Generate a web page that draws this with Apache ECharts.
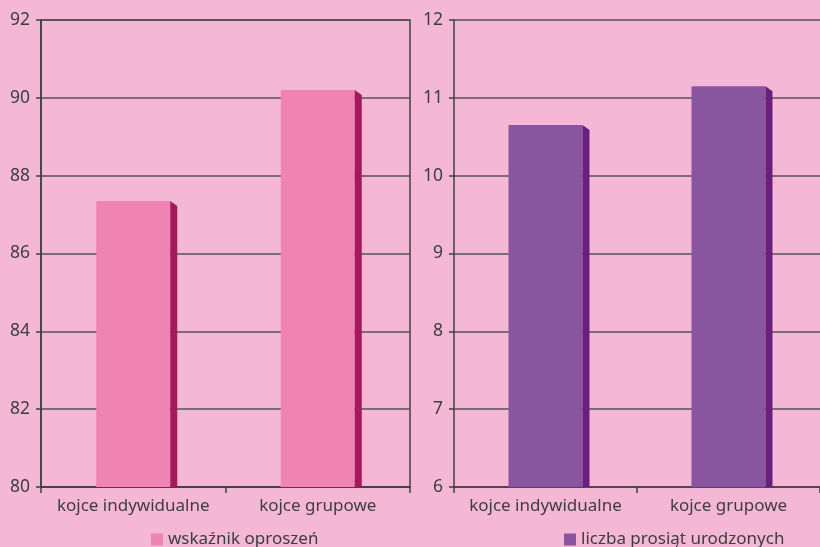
<!DOCTYPE html>
<html>
<head>
<meta charset="utf-8">
<script src="https://cdn.jsdelivr.net/npm/echarts@6/dist/echarts.min.js"></script>
<style>
  html, body { margin: 0; padding: 0; background: #f4b8d6; }
  #chart { width: 820px; height: 547px; }
</style>
</head>
<body>
<div id="chart"></div>
<script>
// dane
const categories = ["kojce indywidualne", "kojce grupowe"];
const leftName = "wskaźnik oproszeń";
const leftValues = [87.35, 90.2];
const rightName = "liczba prosiąt urodzonych";
const rightValues = [10.65, 11.15];

const textColor = "#3d3d3d";
const font = "Noto Sans";

// słupek z ciemniejszym bokiem (efekt 3D)
function bar3d(front, side, axisMin) {
  return function (params, api) {
    const top = api.coord([api.value(0), api.value(1)]);
    const base = api.coord([api.value(0), axisMin]);
    const w = 74, d = 7;
    const x = top[0] - w / 2;
    return {
      type: "group",
      children: [
        {
          type: "rect",
          shape: { x: x, y: top[1], width: w, height: base[1] - top[1] },
          style: { fill: front },
        },
        {
          type: "polygon",
          shape: {
            points: [
              [x + w, top[1]],
              [x + w + d, top[1] + 5],
              [x + w + d, base[1]],
              [x + w, base[1]],
            ],
          },
          style: { fill: side },
        },
      ],
    };
  };
}

function yAxis(gridIndex, min, max, interval) {
  return {
    type: "value",
    gridIndex: gridIndex,
    min: min,
    max: max,
    interval: interval,
    axisLine: { show: true, lineStyle: { color: "#404040", width: 1.5 } },
    axisTick: { show: true, length: 5, lineStyle: { color: "#404040", width: 1.5 } },
    axisLabel: { color: textColor, fontSize: 17.5, fontFamily: font, margin: 11 },
    splitLine: { lineStyle: { color: "#555555", width: 1.5 } },
  };
}

function xAxis(gridIndex) {
  return {
    type: "category",
    gridIndex: gridIndex,
    data: categories,
    axisLine: { show: true, lineStyle: { color: "#404040", width: 1.5 } },
    axisTick: { show: true, length: 6, lineStyle: { color: "#404040", width: 1.5 } },
    axisLabel: { interval: 0, color: textColor, fontSize: 17, fontFamily: font, margin: 11 },
  };
}

const chart = echarts.init(document.getElementById("chart"));
const option = {
  backgroundColor: "#f4b8d6",
  animation: false,
  grid: [
    { left: 41, top: 20, width: 369, bottom: 60, show: true, borderColor: "#404040", borderWidth: 1.5, backgroundColor: "transparent" },
    { left: 454, top: 20, width: 370, bottom: 60 },
  ],
  xAxis: [xAxis(0), xAxis(1)],
  yAxis: [yAxis(0, 80, 92, 2), yAxis(1, 6, 12, 1)],
  legend: [
    {
      data: [leftName],
      left: 146, top: 526,
      icon: "rect", itemWidth: 12, itemHeight: 12, itemGap: 6,
      textStyle: { color: textColor, fontSize: 17, fontFamily: font },
    },
    {
      data: [rightName],
      left: 559, top: 526,
      icon: "rect", itemWidth: 12, itemHeight: 12, itemGap: 6,
      textStyle: { color: textColor, fontSize: 17, fontFamily: font },
    },
  ],
  series: [
    {
      name: leftName,
      type: "custom",
      xAxisIndex: 0,
      yAxisIndex: 0,
      itemStyle: { color: "#ef84b4" },
      renderItem: bar3d("#ef84b4", "#a3195c", 80),
      encode: { x: 0, y: 1 },
      data: leftValues.map((v, i) => [i, v]),
    },
    {
      name: rightName,
      type: "custom",
      xAxisIndex: 1,
      yAxisIndex: 1,
      itemStyle: { color: "#8a559f" },
      renderItem: bar3d("#8a559f", "#6a1f80", 6),
      encode: { x: 0, y: 1 },
      data: rightValues.map((v, i) => [i, v]),
    },
  ],
};
chart.setOption(option);
</script>
</body>
</html>
